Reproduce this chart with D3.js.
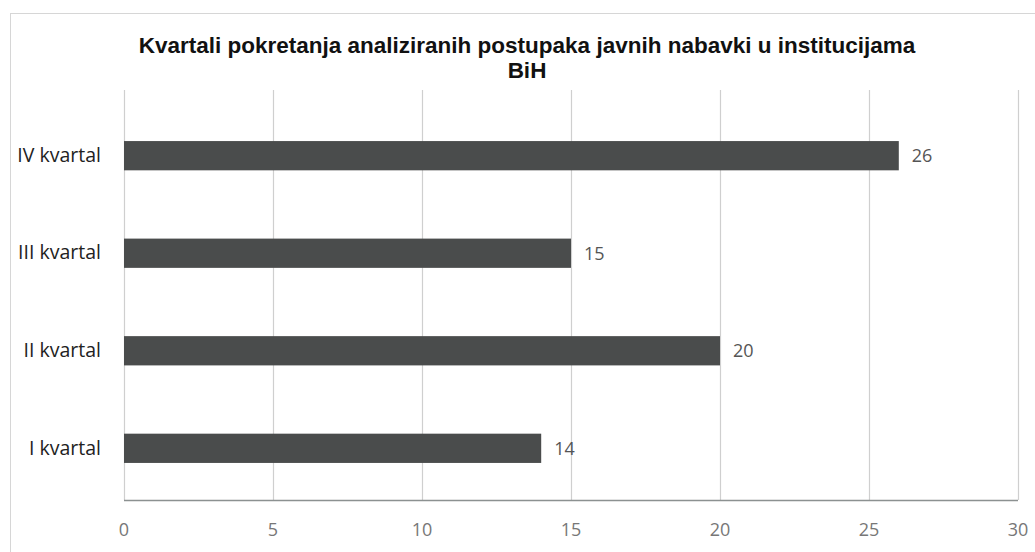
<!DOCTYPE html>
<html>
<head>
<meta charset="utf-8">
<script src="https://cdn.jsdelivr.net/npm/d3@7"></script>
<style>
  body { margin: 0; background: #fff; }
</style>
</head>
<body>
<div id="chart"></div>
<script>
    // Data
    const categories = ["IV kvartal", "III kvartal", "II kvartal", "I kvartal"];
    const values = [26, 15, 20, 14];
    const xTicks = [0, 5, 10, 15, 20, 25, 30];
    const titleLines = [
        "Kvartali pokretanja analiziranih postupaka javnih nabavki u institucijama",
        "BiH",
    ];

    const width = 1035,
        height = 552;

    const svg = d3
        .select("#chart")
        .append("svg")
        .attr("width", width)
        .attr("height", height);

    // Outer chart frame
    svg.append("rect")
        .attr("x", 10.5)
        .attr("y", 13.5)
        .attr("width", 1040)
        .attr("height", 560)
        .attr("fill", "none")
        .attr("stroke", "#d6d6d6");

    const x = d3.scaleLinear().domain([0, 30]).range([124, 1018]);
    const y = d3
        .scaleBand()
        .domain(categories)
        .range([104, 500])
        .paddingInner(0.7)
        .paddingOuter(0.38);

    // Vertical gridlines
    svg.append("g")
        .selectAll("line")
        .data(xTicks)
        .join("line")
        .attr("x1", (d) => x(d) + 0.5)
        .attr("x2", (d) => x(d) + 0.5)
        .attr("y1", 90)
        .attr("y2", 500)
        .attr("stroke", "#cfcfcf")
        .attr("stroke-width", 1.2);

    // Bottom axis line
    svg.append("line")
        .attr("x1", x(0))
        .attr("x2", x(30))
        .attr("y1", 500.5)
        .attr("y2", 500.5)
        .attr("stroke", "#8c9191")
        .attr("stroke-width", 1.5);

    // Bars
    svg.append("g")
        .selectAll("rect")
        .data(values)
        .join("rect")
        .attr("x", x(0))
        .attr("y", (d, i) => y(categories[i]))
        .attr("width", (d) => x(d) - x(0))
        .attr("height", y.bandwidth())
        .attr("fill", "#4a4c4c");

    // Value labels
    svg.append("g")
        .selectAll("text")
        .data(values)
        .join("text")
        .attr("x", (d) => x(d) + 13)
        .attr("y", (d, i) => y(categories[i]) + y.bandwidth() / 2)
        .attr("dy", "0.35em")
        .attr("font-family", "Open Sans, sans-serif")
        .attr("font-size", 18)
        .attr("fill", "#555")
        .text((d) => d);

    // Category labels
    svg.append("g")
        .selectAll("text")
        .data(categories)
        .join("text")
        .attr("x", 101)
        .attr("y", (d) => y(d) + y.bandwidth() / 2)
        .attr("dy", "0.32em")
        .attr("text-anchor", "end")
        .attr("font-family", "Open Sans, sans-serif")
        .attr("font-size", 19.5)
        .attr("fill", "#222")
        .text((d) => d);

    // X tick labels
    svg.append("g")
        .selectAll("text")
        .data(xTicks)
        .join("text")
        .attr("x", (d) => x(d))
        .attr("y", 530)
        .attr("dy", "0.35em")
        .attr("text-anchor", "middle")
        .attr("font-family", "Open Sans, sans-serif")
        .attr("font-size", 18)
        .attr("fill", "#777")
        .text((d) => d);

    // Title
    svg.append("g")
        .selectAll("text")
        .data(titleLines)
        .join("text")
        .attr("x", 527)
        .attr("y", (d, i) => 53 + i * 25)
        .attr("text-anchor", "middle")
        .attr("font-family", "Liberation Sans, Arial, sans-serif")
        .attr("font-weight", "bold")
        .attr("font-size", 22.5)
        .attr("fill", "#111")
        .text((d) => d);
</script>
</body>
</html>
